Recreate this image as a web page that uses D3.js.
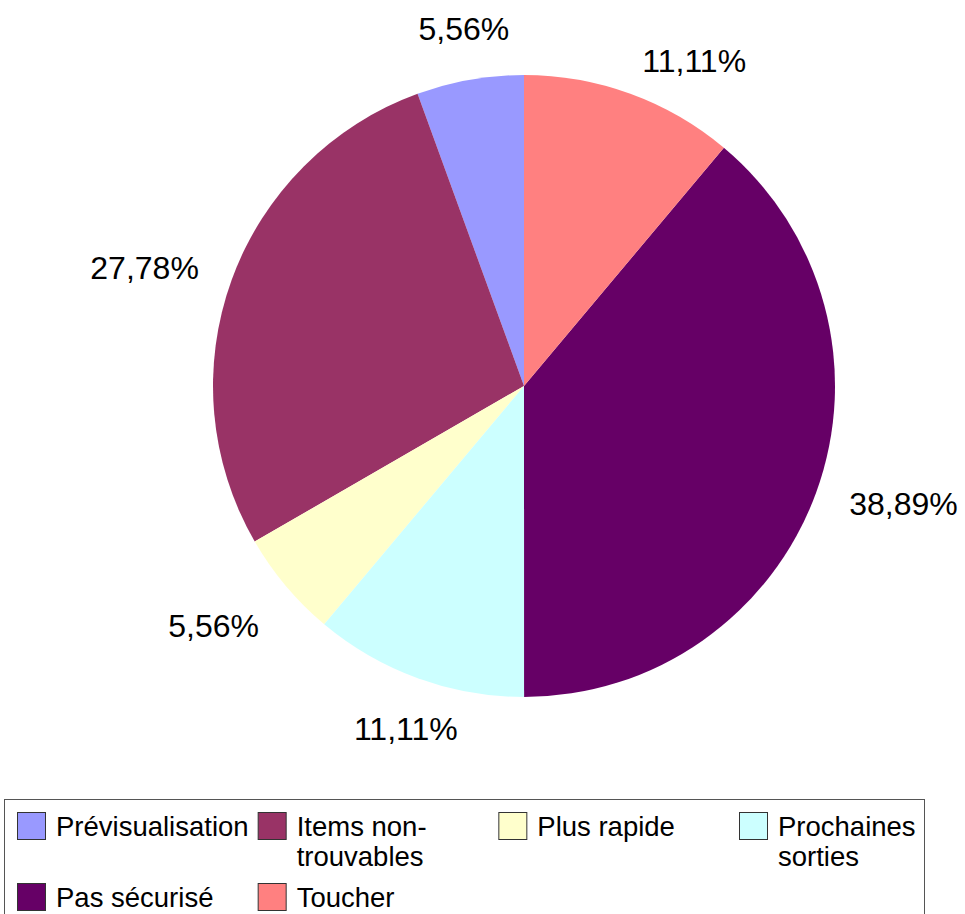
<!DOCTYPE html>
<html>
<head>
<meta charset="utf-8">
<script src="https://cdn.jsdelivr.net/npm/d3@7"></script>
<style>
  html, body { margin: 0; padding: 0; background: #fff; }
  svg { display: block; font-family: "Liberation Sans", Arial, sans-serif; }
</style>
</head>
<body>
<svg id="chart" width="965" height="914"></svg>
<script>
// Survey answers, in legend order (slices run counter-clockwise from 12 o'clock)
const categories = ["Prévisualisation", "Items non-trouvables", "Plus rapide", "Prochaines sorties", "Pas sécurisé", "Toucher"];
const percentages = [5.56, 27.78, 5.56, 11.11, 38.89, 11.11];
const colors = ["#9999FF", "#993366", "#FFFFCC", "#CCFFFF", "#660066", "#FF8080"];

const W = 965, H = 914;
const cx = 524, cy = 386, radius = 311, labelRadius = 346;

const svg = d3.select("#chart");

const data = categories.map((c, i) => ({ name: c, value: percentages[i], color: colors[i] }));

const pie = d3.pie()
  .sort(null)
  .value(d => d.value)
  .startAngle(0)
  .endAngle(-2 * Math.PI);

const arc = d3.arc().innerRadius(0).outerRadius(radius);

const g = svg.append("g").attr("transform", `translate(${cx},${cy})`);
const arcs = pie(data);

g.selectAll("path.slice")
  .data(arcs)
  .join("path")
  .attr("class", "slice")
  .attr("d", arc)
  .attr("fill", d => d.data.color);

// Percentage labels placed just outside each slice
const fmt = v => d3.format(".2f")(v).replace(".", ",") + "%";
const labelSize = 32;

g.selectAll("text.pct")
  .data(arcs)
  .join("text")
  .attr("class", "pct")
  .attr("font-size", labelSize)
  .attr("fill", "#000")
  .each(function (d) {
    const a = (d.startAngle + d.endAngle) / 2;
    const s = Math.sin(a), c = Math.cos(a);
    const px = s * labelRadius, py = -c * labelRadius;
    let anchor = "middle";
    if (s > 0.3) anchor = "start";
    else if (s < -0.5) anchor = "end";
    let base;
    if (c > 0.96) base = py - 5;           // above the point
    else if (c < -0.6) base = py + 29;     // below the point
    else base = py + 11;                   // vertically centred
    d3.select(this)
      .attr("x", px)
      .attr("y", base)
      .attr("text-anchor", anchor)
      .text(fmt(d.data.value));
  });

// Legend box
const legend = svg.append("g");
legend.append("rect")
  .attr("x", 4.5).attr("y", 799.5)
  .attr("width", 920).attr("height", 140)
  .attr("fill", "#fff")
  .attr("stroke", "#555")
  .attr("stroke-width", 1);

const colX = d3.scalePoint().domain(d3.range(4)).range([17, 739]);
const rowY = [812, 883];
const legendSize = 27.5, lineH = 30, maxTextW = 196;

data.forEach((d, i) => {
  const x = colX(i % 4), y = rowY[Math.floor(i / 4)];
  legend.append("rect")
    .attr("x", x + 0.5).attr("y", y + 0.5)
    .attr("width", 28).attr("height", 27)
    .attr("fill", d.color)
    .attr("stroke", "#333")
    .attr("stroke-width", 1);

  const t = legend.append("text")
    .attr("font-size", legendSize)
    .attr("fill", "#000")
    .attr("x", x + 39)
    .attr("y", y + 23.5);

  // wrap on spaces and after hyphens
  const tokens = d.name.match(/[^\s-]+-?|\s+/g).filter(s => s.trim().length);
  const joinTok = (a, b) => (a.endsWith("-") ? a + b : a + " " + b);
  const lines = [];
  let cur = "";
  const probe = legend.append("text").attr("font-size", legendSize).attr("visibility", "hidden");
  tokens.forEach(tok => {
    const cand = cur ? joinTok(cur, tok) : tok;
    probe.text(cand);
    if (cur && probe.node().getComputedTextLength() > maxTextW) {
      lines.push(cur);
      cur = tok;
    } else cur = cand;
  });
  if (cur) lines.push(cur);
  probe.remove();

  lines.forEach((ln, k) => {
    t.append("tspan").attr("x", x + 39).attr("dy", k === 0 ? 0 : lineH).text(ln);
  });
});
</script>
</body>
</html>
